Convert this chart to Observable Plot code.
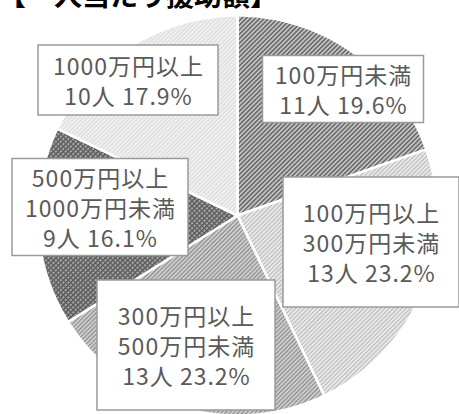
<!DOCTYPE html>
<html>
<head>
<meta charset="utf-8">
<script src="https://cdn.jsdelivr.net/npm/d3@7"></script>
<script src="https://cdn.jsdelivr.net/npm/@observablehq/plot@0.6"></script>
<style>
  html, body { margin: 0; padding: 0; background: #fff; }
  #wrap { position: relative; width: 459px; height: 414px; overflow: hidden; }
  #title { position: absolute; top: -20px; left: -2px; font: bold 28px "Noto Sans CJK JP", sans-serif; color: #000; white-space: nowrap; line-height: 1; z-index: 2; }
  #chart svg text { letter-spacing: 1px; }
</style>
</head>
<body>
<div id="wrap">
  <div id="title">【一人当たり援助額】</div>
  <div id="chart"></div>
</div>
<script>
// ---- data ----
const categories = ["100万円未満", "100万円以上\n300万円未満", "300万円以上\n500万円未満", "500万円以上\n1000万円未満", "1000万円以上"];
const counts = [11, 13, 13, 9, 10];
const percents = ["19.6%", "23.2%", "23.2%", "16.1%", "17.9%"];

// ---- layout (pie units: radius = 1, clockwise from top) ----
const labelCenters = [[0.53, -0.63], [0.67, 0.135], [-0.255, 0.65], [-0.685, -0.04], [-0.545, -0.675]];
const boxSizes = [[161, 67], [176, 130], [178, 130], [176, 97], [180, 70]]; // px
const R_PX = 200;

const total = d3.sum(counts);
const pie = d3.pie().sort(null).value(d => d)(counts);

// polygon outline for each slice
const slicePts = [];
pie.forEach((p, i) => {
  const key = "s" + i;
  slicePts.push({key, x: 0, y: 0});
  const n = Math.max(2, Math.ceil((p.endAngle - p.startAngle) / (Math.PI / 180)));
  for (let k = 0; k <= n; k++) {
    const a = p.startAngle + (p.endAngle - p.startAngle) * k / n;
    slicePts.push({key, x: Math.sin(a), y: -Math.cos(a)});
  }
  slicePts.push({key, x: 0, y: 0});
});

const labels = categories.map((c, i) => ({
  text: c + "\n" + counts[i] + "人 " + percents[i],
  x: labelCenters[i][0],
  y: labelCenters[i][1],
  x1: labelCenters[i][0] - boxSizes[i][0] / 2 / R_PX,
  x2: labelCenters[i][0] + boxSizes[i][0] / 2 / R_PX,
  y1: labelCenters[i][1] - boxSizes[i][1] / 2 / R_PX,
  y2: labelCenters[i][1] + boxSizes[i][1] / 2 / R_PX
}));

const W = 459, H = 414, CX = 237, CY = 215;
const chart = Plot.plot({
  width: W,
  height: H,
  margin: 0,
  x: {domain: [-CX / R_PX, (W - CX) / R_PX], range: [0, W], axis: null},
  y: {domain: [-CY / R_PX, (H - CY) / R_PX], range: [0, H], axis: null},
  color: {type: "identity"},
  style: {background: "transparent", fontFamily: "'Noto Sans CJK JP', sans-serif"},
  marks: [
    Plot.line(slicePts, {x: "x", y: "y", z: "key", fill: d => "url(#p" + d.key.slice(1) + ")", stroke: "#fff", strokeWidth: 2.5, curve: "linear"}),
    Plot.rect(labels, {x1: "x1", x2: "x2", y1: "y1", y2: "y2", fill: "#fff", stroke: "#9a9a9a", strokeWidth: 1.5}),
    Plot.text(labels, {x: "x", y: "y", text: "text", fontSize: 23, lineHeight: 1.3, fill: "#5a5a5a", textAnchor: "middle", lineAnchor: "middle"})
  ]
});

const defs = `<defs>
<pattern id="p0" width="3.2" height="3.2" patternUnits="userSpaceOnUse" patternTransform="rotate(-45)">
  <rect width="3.2" height="3.2" fill="#c4c4c4"/><rect width="3.2" height="1.5" fill="#666"/></pattern>
<pattern id="p1" width="3" height="3" patternUnits="userSpaceOnUse" patternTransform="rotate(-45)">
  <rect width="3" height="3" fill="#e8e8e8"/><rect width="3" height="1" fill="#b8b8b8"/></pattern>
<pattern id="p2" width="3" height="3" patternUnits="userSpaceOnUse" patternTransform="rotate(-45)">
  <rect width="3" height="3" fill="#d2d2d2"/><rect width="3" height="1.2" fill="#8a8a8a"/></pattern>
<pattern id="p3" width="3.5" height="3.5" patternUnits="userSpaceOnUse" patternTransform="rotate(-45)">
  <rect width="3.5" height="3.5" fill="#a8a8a8"/><rect width="3.5" height="1.3" fill="#4e4e4e"/><rect width="1.3" height="3.5" fill="#5e5e5e"/></pattern>
<pattern id="p4" width="3" height="3" patternUnits="userSpaceOnUse" patternTransform="rotate(-45)">
  <rect width="3" height="3" fill="#efefef"/><rect width="3" height="1" fill="#dadada"/></pattern>
</defs>`;
chart.insertAdjacentHTML("afterbegin", defs);
document.getElementById("chart").appendChild(chart);
</script>
</body>
</html>
